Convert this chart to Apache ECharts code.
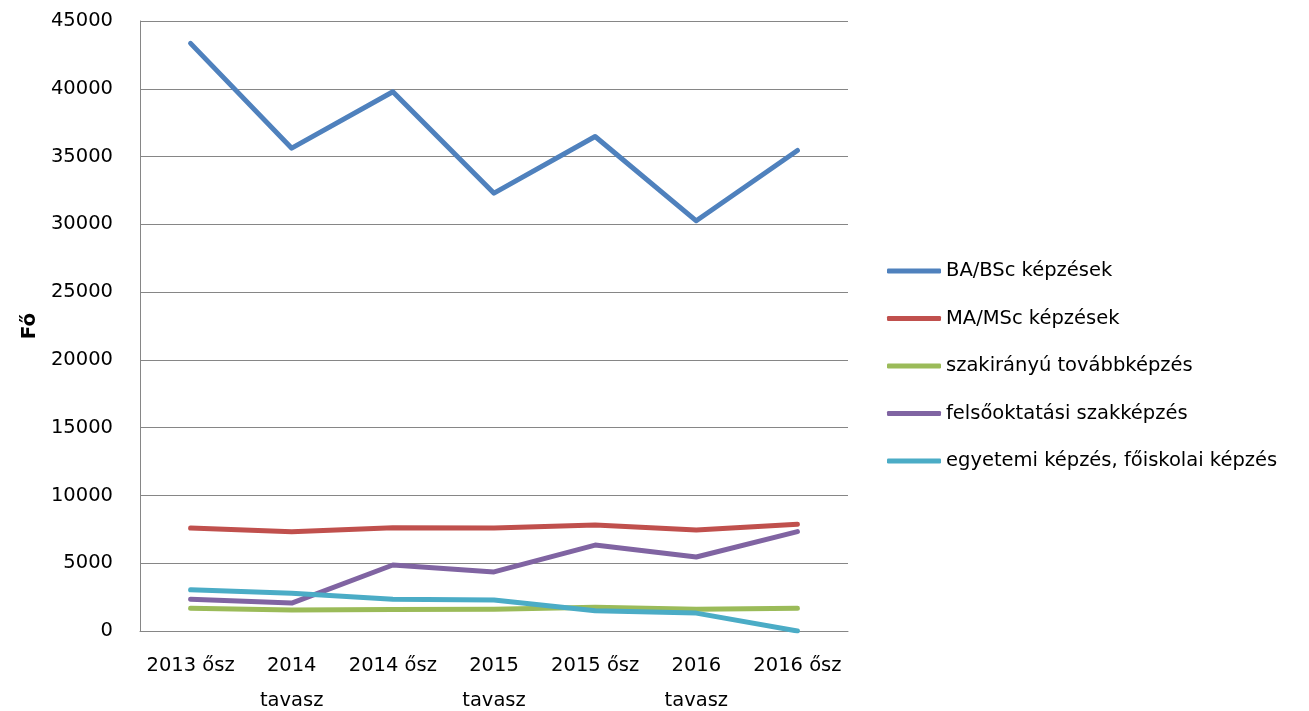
<!DOCTYPE html>
<html>
<head>
<meta charset="utf-8">
<script src="https://cdn.jsdelivr.net/npm/echarts@6/dist/echarts.min.js"></script>
<style>
  html, body { margin: 0; padding: 0; background: #fff; }
  #chart { width: 1309px; height: 711px; }
</style>
</head>
<body>
<div id="chart"></div>
<script>
// félévek
const categories = ['2013 ősz', '2014\ntavasz', '2014 ősz', '2015\ntavasz', '2015 ősz', '2016\ntavasz', '2016 ősz']
const seriesNames = ['BA/BSc képzések', 'MA/MSc képzések', 'szakirányú továbbképzés', 'felsőoktatási szakképzés', 'egyetemi képzés, főiskolai képzés']
const baBsc = [43350, 35620, 39780, 32300, 36480, 30260, 35450]
const maMsc = [7600, 7330, 7620, 7600, 7820, 7450, 7880]
const szakiranyu = [1680, 1550, 1590, 1610, 1760, 1600, 1670]
const felsooktatasi = [2350, 2060, 4870, 4360, 6340, 5460, 7330]
const egyetemi = [3040, 2790, 2350, 2280, 1490, 1320, 0]
const colors = ['#4F81BD', '#C0504D', '#9BBB59', '#8064A2', '#4BACC6']

let myChart = echarts.init(document.getElementById('chart'))
const font = '"DejaVu Sans", sans-serif'
const lines = [baBsc, maMsc, szakiranyu, felsooktatasi, egyetemi]

let option = {
  animation: false,
  textStyle: { fontFamily: font },
  grid: { left: 140, right: 461, top: 21, bottom: 80, outerBoundsMode: 'none', containLabel: false },
  legend: {
    orient: 'vertical',
    left: 882,
    top: 256,
    itemGap: 27.5,
    itemWidth: 54,
    itemHeight: 5,
    icon: 'roundRect',
    textStyle: { fontSize: 19.5, color: '#000', fontFamily: font },
    data: seriesNames
  },
  xAxis: {
    type: 'category',
    data: categories,
    axisLine: { lineStyle: { color: '#868686', width: 1 } },
    axisTick: { show: false },
    axisLabel: { color: '#000', fontSize: 19.5, lineHeight: 35, margin: 17, interval: 0 }
  },
  yAxis: {
    type: 'value',
    min: 0,
    max: 45000,
    interval: 5000,
    name: 'Fő',
    nameLocation: 'middle',
    nameGap: 97,
    nameTextStyle: { fontSize: 20, fontWeight: 'bold', color: '#000' },
    axisLine: { show: true, lineStyle: { color: '#868686', width: 1 } },
    axisTick: { show: false },
    axisLabel: { color: '#000', fontSize: 19.5, margin: 27, formatter: v => String(v) },
    splitLine: { lineStyle: { color: '#868686', width: 1 } }
  },
  series: lines.map((d, i) => ({
    name: seriesNames[i],
    type: 'line',
    data: d,
    symbol: 'none',
    color: colors[i],
    itemStyle: { color: colors[i] },
    lineStyle: { width: 5, color: colors[i], cap: 'round', join: 'round' }
  }))
}
myChart.setOption(option, true)
</script>
</body>
</html>
